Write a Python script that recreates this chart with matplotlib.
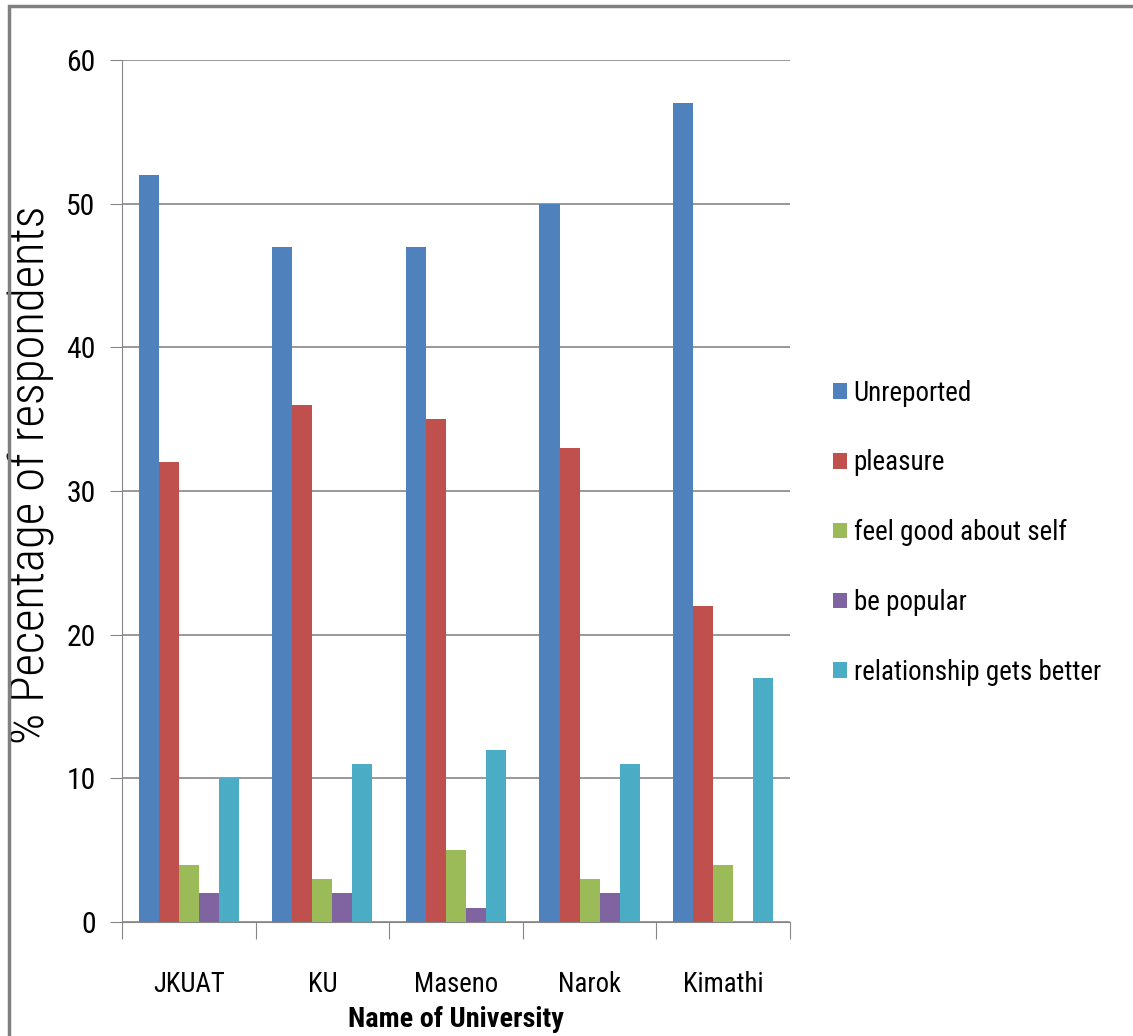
import numpy as np
import matplotlib.pyplot as plt
from matplotlib import font_manager
from matplotlib.patches import Rectangle

universities = ["JKUAT", "KU", "Maseno", "Narok", "Kimathi"]
series = ["Unreported", "pleasure", "feel good about self", "be popular",
          "relationship gets better"]
unreported = [52, 47, 47, 50, 57]
pleasure = [32, 36, 35, 33, 22]
feel_good = [4, 3, 5, 3, 4]
popular = [2, 2, 1, 2, 0]
relationship = [10, 11, 12, 11, 17]
colors = ["#4F81BD", "#C0504D", "#9BBB59", "#8064A2", "#4BACC6"]

names = {f.name for f in font_manager.fontManager.ttflist}
narrow = [n for n in ["Liberation Sans Narrow", "Roboto Condensed", "Open Sans Condensed"] if n in names]
if narrow:
    font, k = narrow[0], 1.1
else:
    font, k = "Lato", 1.0
plt.rcParams["font.family"] = [font, "DejaVu Sans"]

fig = plt.figure(figsize=(11.33, 10.36), dpi=100)
ax = fig.add_axes([0.1077, 0.110, 0.5895, 0.832])

x = np.arange(len(universities))
w = 0.15
values = [unreported, pleasure, feel_good, popular, relationship]
for i, (name, vals) in enumerate(zip(series, values)):
    ax.bar(x + (i - 2) * w, vals, w, color=colors[i], label=name, zorder=3)

ax.set_xlim(-0.5, len(universities) - 0.5)
ax.set_ylim(0, 60)
ax.set_yticks(range(0, 61, 10))
ax.tick_params(axis="y", labelsize=19.5 * k, length=9, color="#868686", pad=10)
ax.set_xticks(np.arange(-0.5, len(universities), 1))
ax.set_xticklabels([])
ax.tick_params(axis="x", length=12, color="#868686")
ax.set_xticks(x, minor=True)
ax.set_xticklabels(universities, minor=True, fontsize=17.5 * k)
ax.tick_params(axis="x", which="minor", length=0, pad=35)
ax.grid(axis="y", color="#868686", linewidth=1.2, zorder=0)
for s in ["top", "right"]:
    ax.spines[s].set_visible(False)
for s in ["left", "bottom"]:
    ax.spines[s].set_color("#868686")

ax.set_ylabel("% Pecentage of respondents", fontsize=32 * k, fontweight="light")
ax.yaxis.set_label_coords(-0.1, 0.519)
ax.set_xlabel("Name of University", fontsize=18.5 * k, fontweight="bold", va="center")
ax.xaxis.set_label_coords(0.5, -0.113)

fig.legend(loc="upper left", bbox_to_anchor=(0.714, 0.657), frameon=False,
           fontsize=17.7 * k, handlelength=0.5, handleheight=0.5,
           handletextpad=0.25, labelspacing=1.58)

fig.patches.append(Rectangle((0.008, -0.1), 1.5, 1.094, transform=fig.transFigure,
                             fill=False, edgecolor="#808080", linewidth=2.5))

fig.savefig("out.png", dpi=100)
